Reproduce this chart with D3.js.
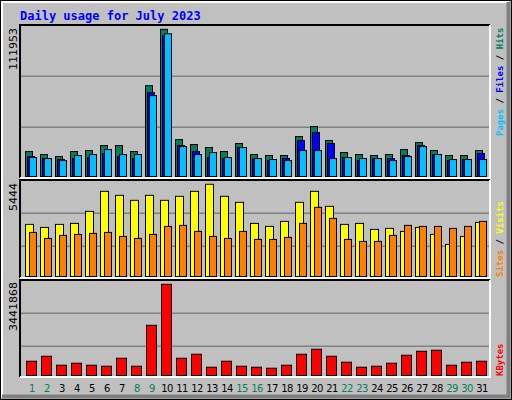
<!DOCTYPE html>
<html><head><meta charset="utf-8">
<script src="https://cdn.jsdelivr.net/npm/d3@7"></script>
<style>body{margin:0;background:#fff}</style></head>
<body><svg id="c" width="512" height="400"></svg>
<script>
const days = d3.range(1,32);
const weekendDays = [1,2,8,9,15,16,22,23,29,30];
const hits = [18975,16698,15180,18975,19734,23529,23529,18975,69069,111953,28083,24288,22011,18975,25047,16698,15939,15939,30360,37950,27324,18216,16698,15939,16698,20493,25806,19734,15939,15939,19734];
const files = [15180,13662,12903,13662,14421,17457,15180,13662,63756,107019,23529,18975,14421,13662,22011,13283,12144,13662,27324,33396,25047,14421,12144,13662,13662,15939,23529,16698,12144,12903,17457];
const pages = [14421,13662,12144,15939,16698,20493,16698,16698,61479,108537,22770,16698,18216,14421,22011,13662,12903,12144,19734,19734,13662,14421,13662,13662,12144,15180,22770,16698,12903,12903,12903];
const sites = [3077,2899,3077,3136,3846,5029,4793,4497,4793,4497,4734,5029,5444,4734,4379,3136,2959,3254,4379,5029,4142,3077,3136,2781,2840,2663,2899,2485,1893,2367,3195];
const visits = [2603,2248,2426,2485,2544,2603,2367,2248,2485,2958,3018,2663,2367,2248,2663,2189,2189,2308,3136,4083,3432,2189,2071,2071,2426,3018,2958,2958,2840,2958,3254];
const kbytes = [538495,726780,387867,463181,387867,350210,651466,350210,1894147,3441868,651466,802094,312553,538495,350210,312553,274896,387867,802094,990379,726780,500838,312553,350210,463181,764437,915065,952722,387867,500838,538495];
const title = "Daily usage for July 2023";

const svg = d3.select("#c");
const mono = "'DejaVu Sans Mono', monospace";
svg.append("rect").attr("x",0).attr("y",0).attr("width",512).attr("height",400).attr("fill","#c0c0c0");
svg.append("rect").attr("x",0.5).attr("y",0.5).attr("width",511).attr("height",399).attr("fill","none").attr("stroke","#000");
svg.append("path").attr("d","M2,397V2H509").attr("stroke","#fff").attr("stroke-width",2).attr("fill","none");
svg.append("path").attr("d","M2,396.5H508.5V2").attr("stroke","#808080").attr("stroke-width",4).attr("fill","none");
svg.append("text").attr("x",20).attr("y",20).attr("font-family",mono).attr("font-weight","bold")
  .attr("font-size",12).attr("fill","#0000ff").text(title);

const x = d3.scaleBand().domain(days).range([25,490]);
const L=20,R=490;
function panel(top,bot,grids){
  svg.append("path").attr("d",`M${L},${bot}V${top}H${R}`).attr("stroke","#000").attr("stroke-width",2).attr("fill","none");
  svg.append("path").attr("d",`M${L},${bot}H${R}V${top}`).attr("stroke","#fff").attr("stroke-width",2).attr("fill","none");
  grids.forEach(g=>svg.append("line").attr("x1",L+1).attr("x2",R-1).attr("y1",g).attr("y2",g).attr("stroke","#808080").attr("stroke-width",1.5));
}
panel(25,178,[76.3,127.3]);
panel(180,278,[213.3,246.3]);
panel(280,377,[313.3,346.3]);

const y1 = d3.scaleLinear().domain([0,111953]).range([176.5,29.3]);
const y2 = d3.scaleLinear().domain([0,5444]).range([276.5,184.3]);
const y3 = d3.scaleLinear().domain([0,3441868]).range([375.5,284.3]);

function bars(data,y,off,w,color){
  svg.append("g").selectAll("rect").data(data).join("rect")
    .attr("x",(d,i)=>x(days[i])+off).attr("y",d=>y(d)).attr("width",w)
    .attr("height",d=>y.range()[0]-y(d)).attr("fill",color).attr("stroke","#000").attr("stroke-width",1);
}
bars(hits,y1,0.5,7,"#00805c");
bars(files,y1,2.5,7,"#0000ff");
bars(pages,y1,4.5,7,"#00c0ff");
bars(sites,y2,0.5,8,"#ffff00");
bars(visits,y2,4.5,7,"#ff8000");
bars(kbytes,y3,1.5,10,"#ff0000");

svg.append("g").selectAll("text").data(days).join("text")
  .attr("x",d=>x(d)+7).attr("y",392).attr("text-anchor","middle")
  .attr("font-family","'DejaVu Sans', sans-serif").attr("font-size",10).attr("letter-spacing",-0.6)
  .attr("fill",d=>weekendDays.includes(d)?"#00805c":"#000").text(d=>d);

function leftLabel(txt,yTop){
  svg.append("text").attr("transform",`translate(17,${yTop}) rotate(-90)`).attr("text-anchor","end")
   .attr("font-family","'DejaVu Sans', sans-serif").attr("font-size",11).attr("fill","#000").text(txt);
}
leftLabel(d3.max(hits),28);
leftLabel(d3.max(sites),183);
leftLabel(d3.max(kbytes),282);

function rightLabel(parts,yBottom){
  const t=svg.append("text").attr("transform",`translate(503,${yBottom}) rotate(-90)`)
    .attr("font-family",mono).attr("font-weight","bold").attr("font-size",9);
  parts.forEach(([s,c])=>t.append("tspan").attr("fill",c).text(s));
}
rightLabel([["Pages","#00c0ff"],[" / ","#000"],["Files","#0000ff"],[" / ","#000"],["Hits","#00805c"]],136);
rightLabel([["Sites","#ff8000"],[" / ","#000"],["Visits","#ffff00"]],277);
rightLabel([["KBytes","#ff0000"]],376);
</script></body></html>
